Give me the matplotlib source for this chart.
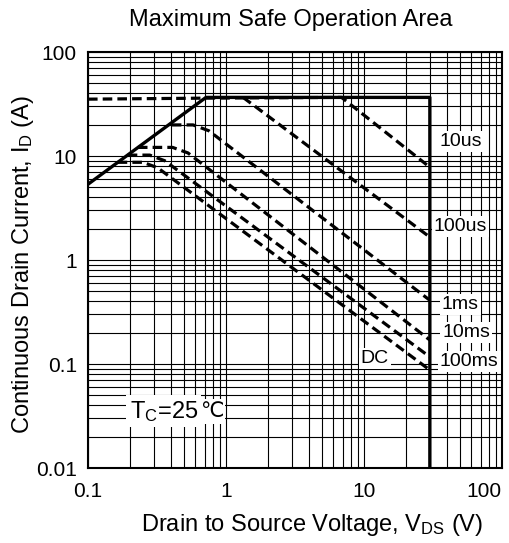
import matplotlib
matplotlib.use('Agg')
import matplotlib.pyplot as plt
from matplotlib.ticker import LogLocator, FixedLocator, FixedFormatter, NullFormatter

plt.rcParams['font.family'] = ['Liberation Sans', 'DejaVu Sans']
plt.rcParams['mathtext.fontset'] = 'custom'
plt.rcParams['mathtext.rm'] = 'Liberation Sans'
plt.rcParams['mathtext.it'] = 'Liberation Sans'

# SOA boundary (solid)
v_soa = [0.1, 0.716, 30, 30]
i_soa = [5.35, 36.6, 36.6, 0.01]

# pulse lines (dashed)
v_10us = [0.1, 0.7, 6.88, 30]
i_10us = [35.2, 36.0, 36.6, 7.8]
v_100us = [1.33, 30]
i_100us = [36.6, 1.66]
v_1ms = [0.405, 0.577, 0.75, 30]
i_1ms = [19.9, 19.9, 17.5, 0.41]
v_10ms = [0.23, 0.41, 0.53, 30]
i_10ms = [12.1, 12.1, 10.7, 0.17]
v_100ms = [0.194, 0.28, 0.36, 30]
i_100ms = [10.2, 10.2, 9.0, 0.117]
v_dc = [0.164, 0.25, 0.32, 30]
i_dc = [8.7, 8.7, 7.7, 0.0875]

# curve labels
label_text = ['10us', '100us', '1ms', '10ms', '100ms', 'DC']
label_v = [50, 50, 50, 55, 58, 12]
label_i = [13.8, 2.12, 0.37, 0.2, 0.105, 0.112]

x_ticks = [0.1, 1, 10, 100]
x_ticklabels = ['0.1', '1', '10', '100']
y_ticks = [0.01, 0.1, 1, 10, 100]
y_ticklabels = ['0.01', '0.1', '1', '10', '100']

fig = plt.figure(figsize=(5.1, 5.43), dpi=100)
ax = fig.add_axes([88 / 510, 1 - 468 / 543, 414 / 510, 416 / 543])
ax.set_xscale('log')
ax.set_yscale('log')
ax.set_xlim(0.1, 100)
ax.set_ylim(0.01, 100)

# 격자
ax.xaxis.set_minor_locator(LogLocator(base=10, subs=range(2, 10)))
ax.yaxis.set_minor_locator(LogLocator(base=10, subs=range(2, 10)))
ax.xaxis.set_minor_formatter(NullFormatter())
ax.yaxis.set_minor_formatter(NullFormatter())
ax.grid(True, which='both', color='black', linewidth=0.8, linestyle='-')
ax.set_axisbelow(True)

dash = (0, (3, 1.6))
for vv, ii in [(v_10us, i_10us), (v_100us, i_100us), (v_1ms, i_1ms),
               (v_10ms, i_10ms), (v_100ms, i_100ms), (v_dc, i_dc)]:
    ax.plot(vv, ii, color='black', linewidth=2.3, linestyle=dash, zorder=3)
ax.plot(v_soa, i_soa, color='black', linewidth=2.4, zorder=4)

for t, vx, iy in zip(label_text, label_v, label_i):
    ax.text(vx, iy, t, ha='center', va='center', fontsize=14, zorder=5,
            bbox=dict(boxstyle='square,pad=0.1', facecolor='white', edgecolor='none'))

# 온도 표시 (℃ 는 DejaVu 로)
tc = ax.text(0.2, 0.035, 'T$_\\mathrm{C}$=25', ha='left', va='center', fontsize=17, zorder=5,
             bbox=dict(boxstyle='square,pad=0.15', facecolor='white', edgecolor='none'))
ax.annotate('℃', xy=(1, 0.5), xycoords=tc, xytext=(1.2, 0), textcoords='offset points',
            ha='left', va='center', fontsize=15, family='DejaVu Sans', zorder=4.5,
            bbox=dict(boxstyle='square,pad=0.1', facecolor='white', edgecolor='none'))

ax.xaxis.set_major_locator(FixedLocator(x_ticks))
ax.xaxis.set_major_formatter(FixedFormatter(x_ticklabels))
ax.yaxis.set_major_locator(FixedLocator(y_ticks))
ax.yaxis.set_major_formatter(FixedFormatter(y_ticklabels))
ax.tick_params(which='both', length=0, labelsize=15)
ax.tick_params(axis='x', pad=10)
ax.tick_params(axis='y', pad=8)
ax.get_xticklabels()[-1].set_ha('right')

for s in ax.spines.values():
    s.set_linewidth(1.5)

ax.set_xlabel('Drain to Source Voltage, V$_\\mathrm{DS}$ (V)', fontsize=17)
ax.xaxis.set_label_coords((312 - 88) / 414, (468 - 525) / 416)
ax.xaxis.label.set_va('center')
ax.set_ylabel('Continuous Drain Current, I$_\\mathrm{D}$ (A)', fontsize=17)
ax.yaxis.set_label_coords((23 - 88) / 414, 0.49)
ax.yaxis.label.set_va('center')

fig.text(291 / 510, 1 - 20 / 543, 'Maximum Safe Operation Area', ha='center', va='center', fontsize=17)

fig.savefig('out.png', dpi=100)
